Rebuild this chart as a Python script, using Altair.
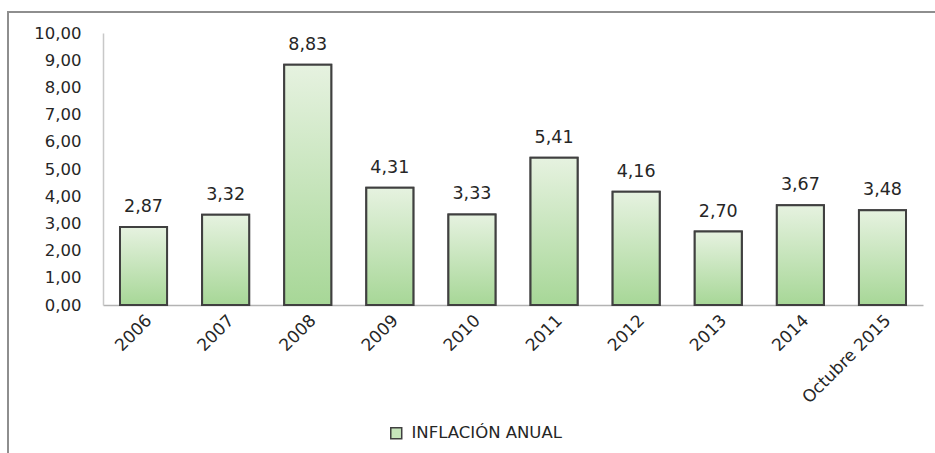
import altair as alt
import pandas as pd

categorias = ["2006", "2007", "2008", "2009", "2010", "2011", "2012", "2013", "2014", "Octubre 2015"]
valores = [2.87, 3.32, 8.83, 4.31, 3.33, 5.41, 4.16, 2.70, 3.67, 3.48]
serie = "INFLACIÓN ANUAL"
y_ticks = [0, 1, 2, 3, 4, 5, 6, 7, 8, 9, 10]

df = pd.DataFrame({"anio": categorias, "valor": valores, "serie": [serie] * len(categorias)})

FONT = "DejaVu Sans"
TXT = "#262626"

x_enc = alt.X(
    "anio:N",
    sort=None,
    title=None,
    scale=alt.Scale(paddingInner=0.427, paddingOuter=0.207),
    axis=alt.Axis(
        labelAngle=-45,
        labelFontSize=17,
        labelFont=FONT,
        labelColor=TXT,
        ticks=False,
        labelPadding=7,
        domainColor="#b3b3b3",
        domainWidth=1.5,
        grid=False,
        labelOverlap=False,
    ),
)
y_enc = alt.Y(
    "valor:Q",
    title=None,
    scale=alt.Scale(domain=[0, 10], nice=False),
    axis=alt.Axis(
        values=y_ticks,
        tickCount=11,
        labelExpr="replace(format(datum.value, '.2f'), '.', ',')",
        labelFontSize=16.5,
        labelFont=FONT,
        labelColor=TXT,
        ticks=False,
        labelPadding=22,
        domainColor="#c8c8c8",
        domainWidth=1.5,
        grid=False,
        labelOverlap=False,
        labelFlush=False,
    ),
)

base = alt.Chart(df)

border = base.mark_rect(fill=None, stroke="#8f8f8f", strokeWidth=1.5).encode(
    x=alt.value(-95), x2=alt.value(900), y=alt.value(-21), y2=alt.value(450)
)

flat = base.mark_bar(stroke="#404040", strokeWidth=2).encode(
    x=x_enc,
    y=y_enc,
    color=alt.Color(
        "serie:N",
        scale=alt.Scale(range=["#c6e5bb"]),
        legend=alt.Legend(
            title=None,
            orient="none",
            legendX=285,
            legendY=392,
            padding=0,
            symbolType="square",
            symbolSize=120,
            symbolStrokeColor="#404040",
            symbolStrokeWidth=1.5,
            labelFont=FONT,
            labelFontSize=16.5,
            labelColor=TXT,
            labelOffset=7,
        ),
    ),
)

grad = base.mark_bar(
    stroke="#404040",
    strokeWidth=2,
    fill=alt.Gradient(
        gradient="linear",
        x1=0, x2=0, y1=0, y2=1,
        stops=[
            alt.GradientStop(offset=0, color="#e6f2e0"),
            alt.GradientStop(offset=1, color="#a7d797"),
        ],
    ),
).encode(x=x_enc, y=y_enc)

text = base.transform_calculate(
    etiqueta="replace(format(datum.valor, '.2f'), '.', ',')"
).mark_text(
    baseline="bottom", dy=-11, fontSize=17.5, font=FONT, color=TXT
).encode(x=x_enc, y=y_enc, text="etiqueta:N")

chart = (
    alt.layer(border, flat, grad, text)
    .properties(
        width=820,
        height=272,
        background="white",
        autosize=alt.AutoSizeParams(type="none"),
        padding={"left": 103, "top": 33, "right": 12, "bottom": 148},
    )
    .configure_view(stroke=None, strokeWidth=0)
)

chart.save("out.html", embed_options={"renderer": "svg", "actions": False})
